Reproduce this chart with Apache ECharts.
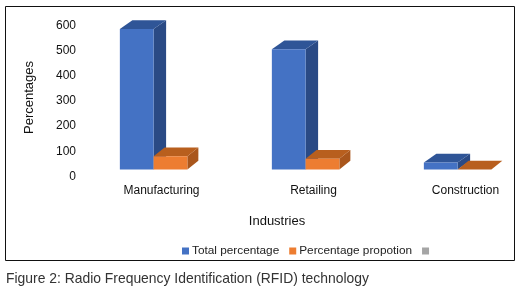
<!DOCTYPE html>
<html><head><meta charset="utf-8">
<style>html,body{margin:0;padding:0;background:#fff}#c{width:519px;height:295px}</style>
<script src="https://cdn.jsdelivr.net/npm/echarts@6/dist/echarts.min.js"></script>
</head><body><div id="c"></div>
<script>
var categories = ['Manufacturing', 'Retailing', 'Construction'];
var totalPercentage = [580, 500, 50];
var percentagePropotion = [75, 65, 5];
var yTicks = [0, 100, 200, 300, 400, 500, 600];
var font = '"Liberation Sans", Arial, sans-serif';
var chart = echarts.init(document.getElementById('c'), null, {renderer: 'canvas'});

function bar3d(side, front, topFace, darkSide) {
  return function (params, api) {
    var base = api.coord([api.value(0), 0]);
    var top = api.coord([api.value(0), api.value(1)]);
    var band = api.size([1, 0])[0];
    var w = band * 0.222;
    var floor = base[1] - 7;
    var y = Math.min(top[1] - 1.5, floor);
    var x0 = (side === 0 ? base[0] - w : base[0]) - 0.4;
    var x1 = x0 + w;
    var dx = side === 0 ? 12.5 : 11, dy = 8.7;
    return {type: 'group', children: [
      {type: 'polygon', shape: {points: [[x1, y], [x1 + dx, y - dy], [x1 + dx, floor - dy], [x1, floor]]}, style: {fill: darkSide}},
      {type: 'polygon', shape: {points: [[x0, y], [x0 + dx, y - dy], [x1 + dx, y - dy], [x1, y]]}, style: {fill: topFace}},
      {type: 'rect', shape: {x: x0, y: y, width: w, height: floor - y}, style: {fill: front}}
    ]};
  };
}

chart.setOption({
  animation: false,
  backgroundColor: '#fff',
  color: ['#4472C4', '#ED7D31', '#A5A5A5'],
  textStyle: {fontFamily: font},
  title: {text: 'Figure 2: Radio Frequency Identification (RFID) technology', left: 6, top: 271,
    textStyle: {fontFamily: font, fontSize: 13.9, fontWeight: 'normal', color: '#333', lineHeight: 16}, padding: 0},
  grid: {left: 78, top: 25.5, width: 456, height: 151, outerBoundsMode: 'none'},
  legend: {left: 182, top: 245, itemWidth: 7, itemHeight: 7, itemGap: 10, padding: 0,
    textStyle: {fontFamily: font, fontSize: 11.8, color: '#222', padding: [0, 0, 0, -2]},
    data: [
      {name: 'Total percentage', icon: 'rect', itemStyle: {color: '#4472C4'}},
      {name: 'Percentage propotion', icon: 'rect', itemStyle: {color: '#ED7D31'}},
      {name: ' ', icon: 'rect', itemStyle: {color: '#A5A5A5'}}
    ]},
  xAxis: {type: 'category', data: categories, name: 'Industries', nameLocation: 'middle', nameGap: 38.5,
    nameMoveOverlap: false,
    nameTextStyle: {fontFamily: font, fontSize: 13, color: '#111', padding: [0, 58, 0, 0]},
    axisLine: {show: false}, axisTick: {show: false}, splitLine: {show: false},
    axisLabel: {fontFamily: font, fontSize: 12, color: '#111', margin: 8.5, padding: [0, 0, 0, 15]}},
  yAxis: {type: 'value', min: yTicks[0], max: yTicks[yTicks.length - 1], interval: 100,
    name: 'Percentages', nameLocation: 'middle', nameGap: 42, nameRotate: 90,
    nameTextStyle: {fontFamily: font, fontSize: 13, color: '#111', padding: [0, 0, 0, 7]},
    axisLine: {show: false}, axisTick: {show: false}, splitLine: {show: false},
    axisLabel: {fontFamily: font, fontSize: 12, color: '#111', margin: 2}},
  graphic: [{type: 'rect', silent: true, z: 10, shape: {x: 5.5, y: 6.5, width: 509, height: 254},
    style: {fill: 'none', stroke: '#111', lineWidth: 1}}],
  series: [
    {name: 'Total percentage', type: 'custom', encode: {x: 0, y: 1}, z: 2, clip: false,
      data: categories.map(function (c, i) { return [i, totalPercentage[i]]; }),
      renderItem: bar3d(0, '#4472C4', '#2F5597', '#2A4A85')},
    {name: 'Percentage propotion', type: 'custom', encode: {x: 0, y: 1}, z: 3, clip: false,
      data: categories.map(function (c, i) { return [i, percentagePropotion[i]]; }),
      renderItem: bar3d(1, '#ED7D31', '#B85F1E', '#A9561C')},
    {name: ' ', type: 'custom', data: [], renderItem: function () { return {type: 'group', children: []}; }}
  ]
});
</script></body></html>
